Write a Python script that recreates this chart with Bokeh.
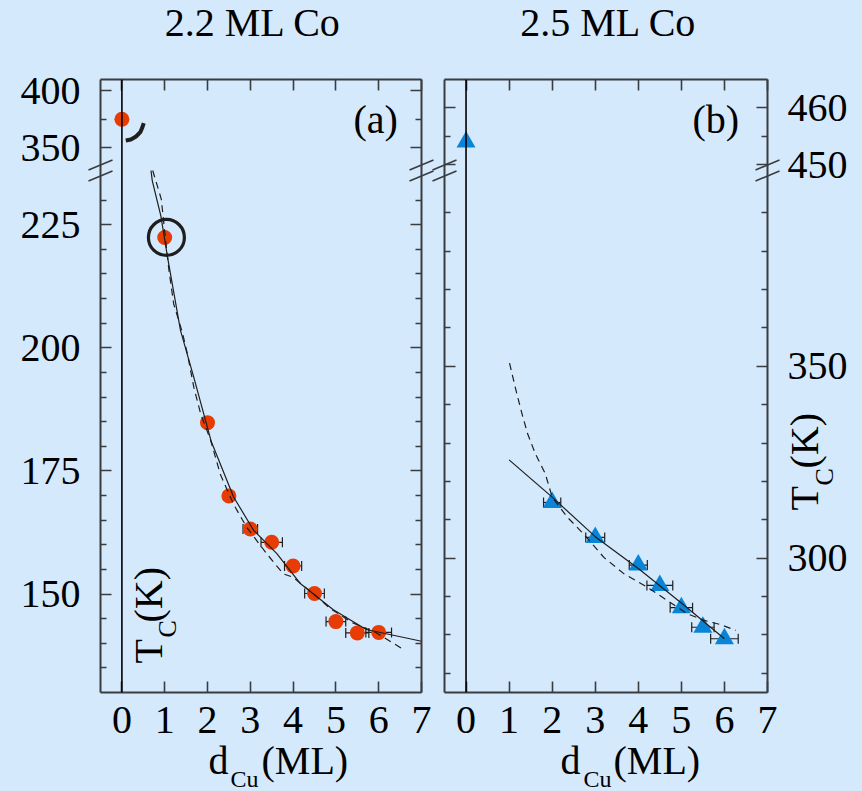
import numpy as np
from bokeh.plotting import figure
from bokeh.models import (Range1d, LinearAxis, FixedTicker, Span, Label, Whisker, TeeHead,
                          ColumnDataSource, GridBox)
from bokeh.layouts import row, column
from bokeh.embed import file_html
from bokeh.resources import INLINE

# ---------------- data ----------------
# panel (a): 2.2 ML Co
a_d = [1, 2, 2.5, 3, 3.5, 4, 4.5, 5, 5.5, 6]
a_tc = [222.4, 184.8, 169.9, 163.2, 160.5, 155.7, 150.1, 144.4, 142.1, 142.2]
a_derr = [0.08, 0.1, 0.12, 0.17, 0.25, 0.2, 0.23, 0.23, 0.27, 0.3]
a_d0 = [0]
a_tc0 = [375]
a_fit_d = [0.68, 0.71, 0.91, 1.06, 1.37, 1.68, 2.09, 2.61, 3.08, 3.62, 4.16, 4.94, 5.71, 7.0]
a_fit_tc = [236, 233.9, 226.8, 218.7, 203.5, 194.0, 180.9, 169.7, 162.9, 158.2, 152.2, 146.8, 142.8, 140.4]
a_dash_d = [0.72, 0.92, 1.02, 1.10, 1.21, 1.41, 1.53, 1.68, 1.84, 2.07, 2.30, 2.61, 2.92, 3.39,
            3.77, 4.00, 4.55, 4.86, 5.40, 5.95, 6.53]
a_dash_tc = [236, 230.2, 222.0, 215.7, 208.9, 203.2, 198.8, 192.0, 186.6, 181.3, 174.3, 168.2, 163.5,
             158.1, 154.1, 153.4, 149.5, 147.1, 144.1, 142.1, 139.0]
a_hook_d = [0.09, 0.21, 0.33, 0.43, 0.48, 0.51]
a_hook_tc = [356.4, 357.3, 359.9, 363.7, 368.1, 371.6]
a_ring_d = [1.04]
a_ring_tc = [222.4]

# panel (b): 2.5 ML Co
b_d = [2, 3, 4, 4.5, 5, 5.5, 6]
b_tc = [314.5, 305.4, 298.2, 292.9, 287.1, 282.0, 279.0]
b_derr = [0.2, 0.22, 0.21, 0.3, 0.26, 0.26, 0.32]
b_d0 = [0]
b_tc0 = [454]
b_fit_d = [1, 2, 3, 4, 5, 6]
b_fit_tc = [325.6, 315.9, 305.6, 297.3, 288.3, 279.0]
b_dash_d = [1.01, 1.18, 1.30, 1.43, 1.61, 1.84, 2.00, 2.35, 2.73, 3.20, 3.67, 4.21, 4.67, 5.14,
            5.53, 5.91, 6.26]
b_dash_tc = [350.8, 342.8, 337.6, 332.4, 327.2, 322.0, 315.9, 310.7, 306.3, 300.2, 295.9, 292.4,
             289.0, 285.5, 283.8, 282.7, 281.2]

x_ticks = [0, 1, 2, 3, 4, 5, 6, 7]
a_lower_major = [150, 175, 200, 225]
a_lower_minor = [135, 140, 145, 155, 160, 165, 170, 180, 185, 190, 195, 205, 210, 215, 220, 230]
a_upper_major = [350, 400]
a_upper_minor = [375]
b_lower_major = [300, 350]
b_lower_minor = [270, 280, 290, 310, 320, 330, 340, 360, 370, 380, 390]
b_upper_major = [450, 460]
b_upper_minor = [455]

titles = ["2.2 ML Co", "2.5 ML Co"]
panel_tags = ["(a)", "(b)"]

# ---------------- style / layout ----------------
BG = "#d5e9fc"
FRAME = "#3a3d40"
INK = "#1e1e1e"
RED = "#e83c05"
BLUE = "#0a84d6"
FONT = "Liberation Serif"
W, H = 862, 791
TOP, BOT, BRK = 79, 692, 170


def ranges(lower, upper):
    h, hl, hu = BOT - TOP, BOT - BRK, BRK - TOP
    main = Range1d(lower[0], lower[0] + (lower[1] - lower[0]) * h / hl)
    up = Range1d(upper[1] - (upper[1] - upper[0]) * h / hu, upper[1])
    return main, up


def up2main(v, main, up):
    return main.start + (v - up.start) * (main.end - main.start) / (up.end - up.start)


def hidden_labels(ax):
    ax.major_label_text_color = None
    ax.major_label_text_font_size = "1px"
    ax.major_label_standoff = 0


def make_panel(x0, width, fl, fr, lower, upper, umajor, uminor, lmajor, lminor, label_side):
    main, up = ranges(lower, upper)
    p = figure(width=width, height=H, x_range=Range1d(-0.5, 7), y_range=main,
               min_border_left=fl - x0, min_border_right=x0 + width - fr,
               min_border_top=TOP, min_border_bottom=H - BOT,
               x_axis_location=None, y_axis_location=None, tools="",
               toolbar_location=None, output_backend="svg",
               background_fill_color=BG, border_fill_color=BG, outline_line_color=None)
    p.extra_y_ranges = {"upper": up}
    p.grid.visible = False

    um = [up2main(v, main, up) for v in umajor]
    un = [up2main(v, main, up) for v in uminor]
    yt = FixedTicker(ticks=lmajor + um, minor_ticks=lminor + un)
    overrides = {t: str(v) for t, v in zip(lmajor + um, lmajor + umajor)}
    for side in ("left", "right"):
        ax = LinearAxis(ticker=yt, major_tick_in=11, major_tick_out=0, minor_tick_in=6,
                        minor_tick_out=0, axis_line_color=FRAME, axis_line_width=2,
                        major_tick_line_color=FRAME, major_tick_line_width=1.6,
                        minor_tick_line_color=FRAME, minor_tick_line_width=1.6)
        if side == label_side:
            ax.major_label_overrides = overrides
            ax.major_label_text_font = FONT
            ax.major_label_text_font_size = "40px"
            ax.major_label_text_color = "black"
            ax.major_label_standoff = 20
        else:
            hidden_labels(ax)
        p.add_layout(ax, side)
    xt = FixedTicker(ticks=x_ticks)
    for side in ("below", "above"):
        ax = LinearAxis(ticker=xt, major_tick_in=11, major_tick_out=0, minor_tick_in=0,
                        minor_tick_out=0, axis_line_color=FRAME, axis_line_width=2,
                        major_tick_line_color=FRAME, major_tick_line_width=1.6)
        if side == "below":
            ax.major_label_text_font = FONT
            ax.major_label_text_font_size = "40px"
            ax.major_label_text_color = "black"
            ax.major_label_standoff = 14
        else:
            hidden_labels(ax)
        p.add_layout(ax, side)

    p.add_layout(Span(location=0, dimension="height", line_color="black", line_width=1.6))
    return p


def whiskers(p, xs, ys, errs):
    src = ColumnDataSource(dict(y=ys, lo=[x - e for x, e in zip(xs, errs)],
                                hi=[x + e for x, e in zip(xs, errs)]))
    p.add_layout(Whisker(source=src, base="y", lower="lo", upper="hi", dimension="width",
                         line_color=INK, line_width=1.2,
                         lower_head=TeeHead(size=10, line_color=INK, line_width=1.2),
                         upper_head=TeeHead(size=10, line_color=INK, line_width=1.2)))


# ---------------- panel (a) ----------------
pa = make_panel(0, 432, 100, 421, (130, 236), (330, 410),
                a_upper_major, a_upper_minor, a_lower_major, a_lower_minor, "left")
pa.scatter(a_d0, a_tc0, y_range_name="upper", marker="circle", size=15,
           fill_color=RED, line_color=None)
pa.line(a_hook_d, a_hook_tc, y_range_name="upper", line_color=INK, line_width=4)
pa.scatter(a_d, a_tc, marker="circle", size=15, fill_color=RED, line_color=None)
pa.line(a_dash_d, a_dash_tc, line_color=INK, line_width=1.2, line_dash="7 5")
pa.line(a_fit_d, a_fit_tc, line_color=INK, line_width=1.2)
pa.scatter(a_ring_d, a_ring_tc, marker="circle", size=36, fill_color=None,
           line_color=INK, line_width=3.2)
whiskers(pa, a_d, a_tc, a_derr)

# ---------------- panel (b) ----------------
pb = make_panel(432, 430, 444, 767, (265, 401), (449, 465),
                b_upper_major, b_upper_minor, b_lower_major, b_lower_minor, "right")
pb.scatter(b_d0, b_tc0, y_range_name="upper", marker="triangle", size=19,
           fill_color=BLUE, line_color=None)
pb.scatter(b_d, b_tc, marker="triangle", size=19, fill_color=BLUE, line_color=None)
pb.line(b_dash_d, b_dash_tc, line_color=INK, line_width=1.2, line_dash="7 5")
pb.line(b_fit_d, b_fit_tc, line_color=INK, line_width=1.2)
whiskers(pb, b_d, b_tc, b_derr)

# ---------------- overlay for free texts and axis-break marks (page pixels) ----------------
ov = figure(width=W, height=H, x_range=Range1d(0, W), y_range=Range1d(H, 0),
            min_border_left=0, min_border_right=0, min_border_top=0, min_border_bottom=0,
            x_axis_location=None, y_axis_location=None, tools="", toolbar_location=None,
            output_backend="svg", background_fill_color=None, border_fill_color=None,
            outline_line_color=None)
ov.grid.visible = False

SHIFT = 0.34  # renderer draws the alphabetic baseline ~0.34 em lower than asked


def label(x, y, text, size=40, align="left", rotated=False):
    if rotated:
        x = x - SHIFT * size
    else:
        y = y - SHIFT * size
    ov.add_layout(Label(x=x, y=y, text=text, text_font=FONT, text_font_size=f"{size}px",
                        text_color="black", text_align=align, text_baseline="alphabetic",
                        angle=np.pi / 2 if rotated else 0))


label(252.5, 36, titles[0], align="center")
label(608, 36, titles[1], align="center")
label(353, 133, panel_tags[0])
label(692, 133, panel_tags[1])
for dx in (208, 560):
    label(dx, 774, "d")
for cx in (230, 583):
    label(cx, 787, "Cu", size=24)
for mx in (261, 613):
    label(mx, 774, "(ML)")
# rotated T_C (K)
label(162, 663, "T", rotated=True)
label(176, 637, "C", size=26, rotated=True)
label(162, 622, "(K)", rotated=True)
label(818, 510, "T", rotated=True)
label(833, 485, "C", size=26, rotated=True)
label(818, 468, "(K)", rotated=True)

bx0, by0, bx1, by1 = [], [], [], []
for ax_px in (100, 421, 444, 767):
    for yc in (164.5, 175.5):
        bx0.append(ax_px - 12); by0.append(yc + 5)
        bx1.append(ax_px + 12); by1.append(yc - 5)
ov.segment(bx0, by0, bx1, by1, line_color=FRAME, line_width=1.6)

grid = GridBox(children=[(row(pa, pb), 0, 0), (column(ov), 0, 0)],
               styles={"background-color": BG})
open("out.html", "w").write(file_html(grid, INLINE, "Tc vs dCu"))
